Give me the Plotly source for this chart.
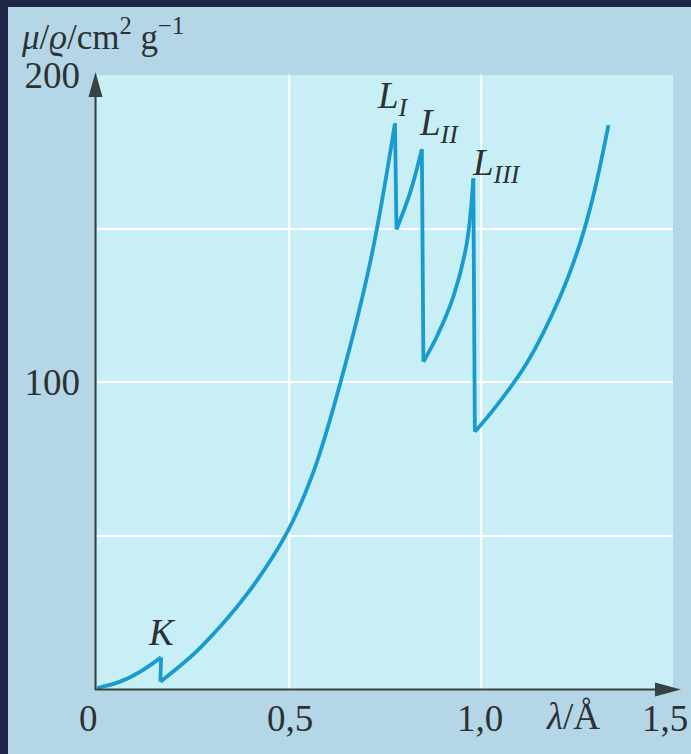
import plotly.graph_objects as go

# Mass attenuation coefficient versus wavelength with K and L absorption edges
wavelength = [0.0, 0.06, 0.112, 0.167,
              0.165, 0.216, 0.268, 0.39, 0.495, 0.563, 0.62, 0.711, 0.776,
              0.780, 0.815, 0.846,
              0.850, 0.885, 0.928, 0.963, 0.980,
              0.984, 1.032, 1.119, 1.206, 1.258, 1.292, 1.332]
mu_rho = [0.3, 2.4, 5.6, 10.3,
          2.4, 7.5, 13.3, 30.8, 51.0, 70.5, 93.5, 138.7, 184.3,
          149.7, 161.5, 175.8,
          106.6, 114.8, 127.8, 145.2, 166.3,
          83.8, 90.9, 106.1, 127.8, 145.2, 160.4, 183.7]

# Edge labels and where they sit (lambda, mu/rho)
edge_labels = ["<i>K</i>", "<i>L<sub>I</sub></i>", "<i>L<sub>II</sub></i>", "<i>L<sub>III</sub></i>"]
edge_label_x = [0.169, 0.771, 0.891, 1.040]
edge_label_y = [18.5, 192.5, 183.5, 170.5]

x_tick_vals = [0, 0.5, 1.0, 1.5]
x_tick_text = ["0", "0,5", "1,0", "1,5"]
x_tick_shift = [-9, 1, -1, -8]
y_tick_vals = [100, 200]
y_tick_text = ["100", "200"]
x_grid = [0.5, 1.0]
y_grid = [50, 100, 150]

W, H = 691, 754
PL, PR, PT, PB = 97, 673, 75, 689   # plot area in pixels

NAVY = "#1f2746"
PANEL = "#b4d6e7"
INNER = "#c7eff5"
CURVE = "#1a9bcf"
INK = "#2c3131"
AXIS = "#394242"
FONT = "Liberation Serif"


def fx(p):
    return (p - PL) / (PR - PL)


def fy(p):
    return (PB - p) / (PB - PT)


fig = go.Figure()

# split the curve at each absorption edge (where the value falls) so that the
# smooth stretches can be drawn as splines and the edges as straight drops
breaks = [i + 1 for i in range(len(mu_rho) - 1) if mu_rho[i + 1] < mu_rho[i]]
starts = [0] + breaks
ends = breaks + [len(mu_rho)]
for s, e in zip(starts, ends):
    fig.add_trace(go.Scatter(
        x=wavelength[s:e], y=mu_rho[s:e], mode="lines",
        line=dict(color=CURVE, width=3.8, shape="spline", smoothing=1.0),
        hoverinfo="skip", showlegend=False,
    ))
for b in breaks:
    fig.add_trace(go.Scatter(
        x=wavelength[b - 1:b + 1], y=mu_rho[b - 1:b + 1], mode="lines",
        line=dict(color=CURVE, width=3.8),
        hoverinfo="skip", showlegend=False,
    ))

annotations = []
for t, xv, yv in zip(edge_labels, edge_label_x, edge_label_y):
    annotations.append(dict(x=xv, y=yv, xref="x", yref="y", text=t, showarrow=False,
                            xanchor="center", yanchor="middle",
                            font=dict(family=FONT, size=37, color=INK)))

for v, t, s in zip(x_tick_vals, x_tick_text, x_tick_shift):
    annotations.append(dict(x=v, y=fy(718), xref="x", yref="paper", text=t, showarrow=False,
                            xanchor="center", yanchor="middle", xshift=s,
                            font=dict(family=FONT, size=37, color=INK)))

# axis titles
annotations.append(dict(x=fx(573), y=fy(716), xref="paper", yref="paper",
                        text="<i>λ</i>/Å", showarrow=False,
                        xanchor="center", yanchor="middle",
                        font=dict(family=FONT, size=37, color=INK)))
annotations.append(dict(x=fx(19), y=fy(35), xref="paper", yref="paper",
                        text="<i>μ</i>/<i>ϱ</i>/cm<sup>2</sup> g<sup>−1</sup>", showarrow=False,
                        xanchor="left", yanchor="middle",
                        font=dict(family=FONT, size=35, color=INK)))

shapes = [
    # dark frame strips along the top and left edges
    dict(type="rect", xref="paper", yref="paper", x0=fx(-5), x1=fx(W + 5),
         y0=fy(7), y1=fy(-5), fillcolor=NAVY, line=dict(width=0)),
    dict(type="rect", xref="paper", yref="paper", x0=fx(-5), x1=fx(8),
         y0=fy(H + 5), y1=fy(-5), fillcolor=NAVY, line=dict(width=0)),
    # axis lines
    dict(type="line", xref="paper", yref="paper", x0=fx(95.5), x1=fx(95.5),
         y0=fy(690), y1=fy(90), line=dict(color=AXIS, width=2)),
    dict(type="line", xref="paper", yref="paper", x0=fx(95), x1=fx(665),
         y0=fy(689.5), y1=fy(689.5), line=dict(color=AXIS, width=2)),
    # arrowheads
    dict(type="path", xref="paper", yref="paper", xsizemode="pixel", ysizemode="pixel",
         xanchor=fx(95.5), yanchor=fy(72), path="M 0,0 L -7,-25 L 7,-25 Z",
         fillcolor=AXIS, line=dict(width=0)),
    dict(type="path", xref="paper", yref="paper", xsizemode="pixel", ysizemode="pixel",
         xanchor=fx(681), yanchor=fy(689.5), path="M 0,0 L -26,7 L -26,-7 Z",
         fillcolor=AXIS, line=dict(width=0)),
]

fig.update_layout(
    width=W, height=H,
    margin=dict(l=PL, r=W - PR, t=PT, b=H - PB, pad=0),
    paper_bgcolor=PANEL, plot_bgcolor=INNER,
    showlegend=False,
    annotations=annotations, shapes=shapes,
    xaxis=dict(range=[0, 1.5], tickmode="array", tickvals=x_grid, showticklabels=False,
               showgrid=True, gridcolor="white", gridwidth=2, zeroline=False,
               showline=False, ticks="", fixedrange=True),
    yaxis=dict(range=[0, 200], tickmode="array", tickvals=y_tick_vals, ticktext=y_tick_text,
               showgrid=False, zeroline=False, showline=False, ticks="",
               ticklabelstandoff=16,
               tickfont=dict(family=FONT, size=37, color=INK),
               minor=dict(tickmode="array", tickvals=y_grid, showgrid=True,
                          gridcolor="white", gridwidth=2, ticks=""),
               fixedrange=True),
)

fig.write_html("out.html")
